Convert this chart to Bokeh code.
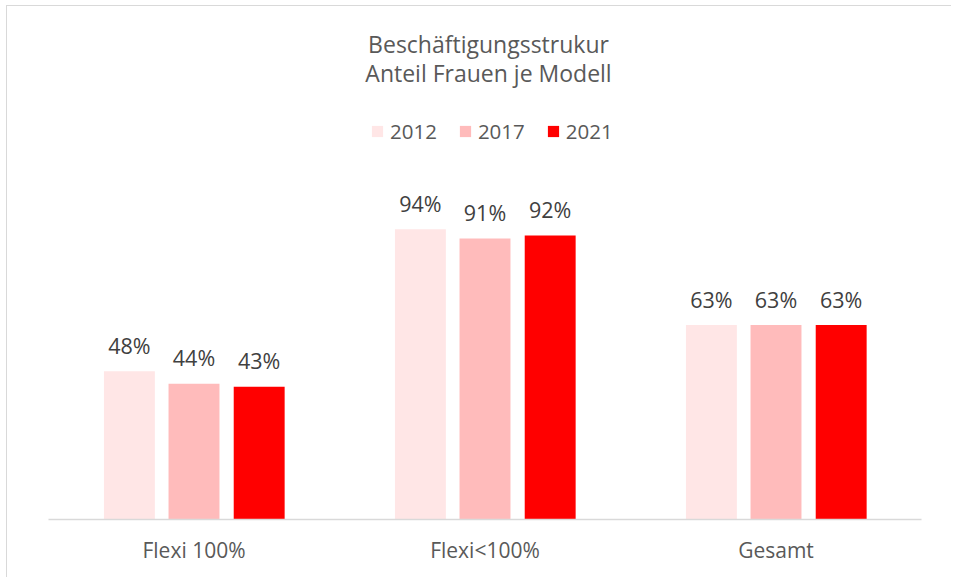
from bokeh.plotting import figure
from bokeh.models import ColumnDataSource, FactorRange, Range1d, Legend, LegendItem, Label
from bokeh.transform import dodge
from bokeh.core.properties import value
from bokeh.embed import file_html
from bokeh.resources import INLINE

categories = ["Flexi 100%", "Flexi<100%", "Gesamt"]
years = ["2012", "2017", "2021"]
v2012 = [48, 94, 63]
v2017 = [44, 91, 63]
v2021 = [43, 92, 63]
colors = ["#FFE6E6", "#FFBBBB", "#FF0000"]
title_lines = ["Beschäftigungsstrukur", "Anteil Frauen je Modell"]

FONT = "Open Sans"
series = [v2012, v2017, v2021]
data = {"cat": categories}
for y, s in zip(years, series):
    data["v" + y] = s
    data["l" + y] = [f"{v}%" for v in s]
src = ColumnDataSource(data)

p = figure(width=945, height=572, x_range=FactorRange(*categories),
           y_range=Range1d(0, 166.2), output_backend="svg", toolbar_location=None,
           min_border_left=41, min_border_right=31, min_border_top=0, min_border_bottom=59,
           styles={"border-top": "1px solid #d9d9d9", "border-left": "1px solid #d9d9d9",
                   "margin-left": "6px", "margin-top": "5px"})
p.outline_line_color = None
p.xgrid.visible = False
p.ygrid.visible = False
p.yaxis.visible = False
p.xaxis.axis_line_color = "#d9d9d9"
p.xaxis.axis_line_width = 1.5
p.xaxis.major_tick_line_color = None
p.xaxis.minor_tick_line_color = None
p.xaxis.major_tick_out = 0
p.xaxis.major_label_standoff = 16
p.xaxis.major_label_text_font = FONT
p.xaxis.major_label_text_font_size = "21px"
p.xaxis.major_label_text_color = "#595959"

offsets = [-0.222, 0.0, 0.224]
items = []
for y, off, c in zip(years, offsets, colors):
    r = p.vbar(x=dodge("cat", off, range=p.x_range), top="v" + y, width=0.175,
               source=src, fill_color=c, line_color=None)
    p.text(x=dodge("cat", off, range=p.x_range), y="v" + y, text="l" + y, source=src,
           text_align="center", text_baseline="alphabetic", y_offset=-26,
           text_font=value(FONT), text_font_size="21.5px", text_color="#404040")
    items.append(LegendItem(label=y, renderers=[r]))

legend = Legend(items=items, orientation="horizontal", location=(322, 374),
                glyph_width=14, glyph_height=14, label_standoff=6, spacing=21,
                padding=0, margin=0, border_line_color=None, background_fill_color=None,
                label_text_font=FONT, label_text_font_size="20.5px", label_text_color="#595959")
p.add_layout(legend, "center")

for i, t in enumerate(title_lines):
    p.add_layout(Label(x=440, y=476 - 29 * i, x_units="screen", y_units="screen", text=t,
                       text_align="center", text_baseline="alphabetic",
                       text_font=FONT, text_font_size="23px", text_color="#595959"))

open("out.html", "w").write(file_html(p, INLINE))
